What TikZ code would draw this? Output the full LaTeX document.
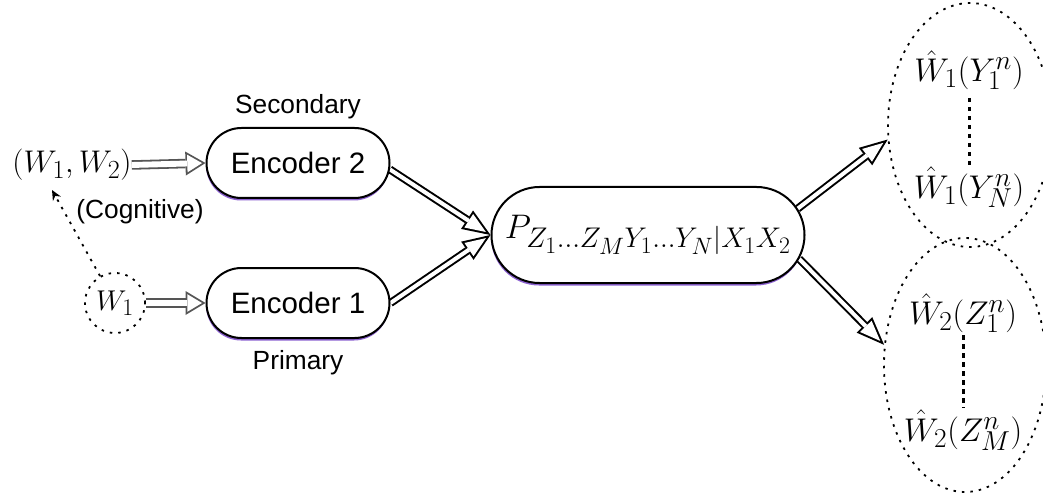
\RequirePackage{fix-cm}
\documentclass[tikz,border=0pt]{standalone}
\usepackage[no-math]{fontspec}
\usepackage{graphicx}
\setsansfont{Liberation Sans}
\usetikzlibrary{arrows.meta,shapes.misc,shapes.geometric,shadows}
\pgfdeclarelayer{bg}
\pgfsetlayers{bg,main}
\definecolor{shadowc}{RGB}{120,70,200}
\definecolor{grayarrow}{RGB}{85,85,85}
\tikzset{
  box/.style={rounded rectangle, draw, line width=2pt, fill=white,
    drop shadow={shadow xshift=-0.5pt, shadow yshift=-2.5pt, fill=shadowc, opacity=0.85},
    inner sep=0pt},
  enctext/.style={font=\sffamily\fontsize{29.5}{34}\selectfont},
  lab/.style={font=\sffamily\fontsize{26.3}{30}\selectfont, inner sep=0pt},
  mlab/.style={font=\fontsize{24.88}{30}\selectfont, inner sep=0pt},
  dotline/.style={line width=1.8pt, dash pattern=on 2.5pt off 6pt},
  vdots/.style={line width=3pt, dash pattern=on 4.5pt off 4.5pt},
  harrowK/.style={draw=black, line width=8pt,
    -{Triangle[length=28pt,width=22pt,line width=0pt]},
    postaction={draw=white, line width=4pt, shorten >=5.5pt,
      -{Triangle[length=20.5pt,width=16.1pt,line width=0pt]}}},
  harrowG/.style={draw=grayarrow, line width=9.5pt,
    -{Triangle[length=20pt,width=24pt,line width=0pt]},
    postaction={draw=white, line width=5.9pt, shorten >=3.5pt,
      -{Triangle[length=14.7pt,width=17.6pt,line width=0pt]}}},
}
\begin{document}
\begin{tikzpicture}[x=1pt,y=-1pt]
\useasboundingbox (0,0) rectangle (1043,494);

% boxes
\node[box, enctext, minimum width=183pt, minimum height=70pt] (enc2) at (298,163) {Encoder 2};
\node[box, enctext, minimum width=183pt, minimum height=70pt] (enc1) at (298,303) {Encoder 1};
\node[box, mlab, minimum width=313pt, minimum height=96pt] (P) at (648,235)
  {\scalebox{1.37}{$P_{Z_1\ldots Z_MY_1\ldots Y_N|X_1X_2}$}};

% labels
\node[lab] (sec) at (298,107) {Secondary};
\node[lab] (prim) at (298,363) {Primary};
\node[lab] (cog) at (140,212) {(Cognitive)};

% sources
\node[mlab] (w12) at (72,165) {\scalebox{1.26}{$(W_1,W_2)$}};
\node[mlab, draw, dotline, circle, minimum size=60pt] (w1) at (115,303) {\scalebox{1.15}{$W_1$}};
\coordinate (cogtip) at (52,190);
\draw[dotline, -{Stealth[length=10pt,width=9pt]}] (w1.119) -- (cogtip);

% decoders
\node[draw, dotline, ellipse, minimum width=164pt, minimum height=244pt] (E1) at (970,125) {};
\node[draw, dotline, ellipse, minimum width=162pt, minimum height=254pt] (E2) at (965,365) {};
\node[mlab] (a1) at (969,70) {\scalebox{1.32}{$\hat W_1(Y_1^n)$}};
\node[mlab] (a2) at (969,187) {\scalebox{1.32}{$\hat W_1(Y_N^n)$}};
\node[mlab] (b1) at (963,313) {\scalebox{1.32}{$\hat W_2(Z_1^n)$}};
\node[mlab] (b2) at (963,430) {\scalebox{1.32}{$\hat W_2(Z_M^n)$}};
\draw[vdots, shorten <=28pt, shorten >=22pt] (a1.center) -- (a2.center);
\draw[vdots, shorten <=22pt, shorten >=22pt] (b1.center) -- (b2.center);

% arrows
\begin{pgfonlayer}{bg}
\draw[harrowG] (w12.east) -- (enc2.west);
\draw[harrowG] (w1.east) -- (enc1.west);
\draw[harrowK] (enc2.-4) -- (P.west);
\draw[harrowK] (enc1.east) -- (P.west);
\draw[harrowK] (P.10) -- (E1.190);
\draw[harrowK] (P.351) -- (E2.166);
\end{pgfonlayer}
\end{tikzpicture}
\end{document}
